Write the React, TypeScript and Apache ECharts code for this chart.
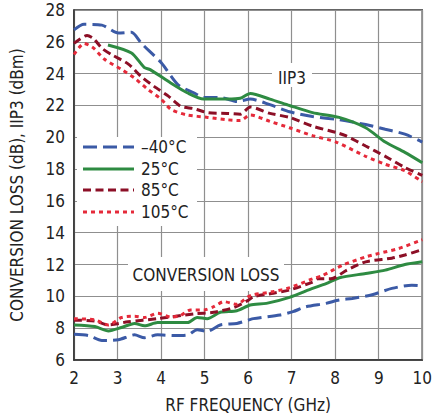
import React, { useEffect, useRef } from "react";
import * as echarts from "echarts";

const xTicks = [2, 3, 4, 5, 6, 7, 8, 9, 10];
const yTicks = [6, 8, 10, 12, 14, 16, 18, 20, 22, 24, 26, 28];

const legendNames = ["\u201340\u00b0C", "25\u00b0C", "85\u00b0C", "105\u00b0C"];
const seriesColors = ["#3b5aa6", "#2e8b42", "#8c0f26", "#e52a3a"];

// IIP3 curves: [frequency GHz, dBm]
const iip3Minus40 = [
  [2.0, 26.75], [2.23, 27.1], [2.64, 27.05], [3.02, 26.55], [3.32, 26.6], [3.55, 25.9],
  [4.0, 24.7], [4.39, 23.3], [4.75, 22.8], [4.98, 22.5], [5.36, 22.5], [5.75, 22.25],
  [6.05, 22.4], [6.5, 22.05], [6.95, 21.6], [7.48, 21.3], [8.09, 21.1], [8.7, 20.8],
  [9.15, 20.5], [9.6, 20.2], [10.0, 19.7],
];
const iip3At25 = [
  [2.78, 25.8], [3.32, 25.3], [3.61, 24.4], [3.75, 24.25], [4.23, 23.4], [4.6, 22.8],
  [4.98, 22.4], [5.52, 22.4], [5.82, 22.45], [6.05, 22.75], [6.5, 22.4], [6.95, 22.0],
  [7.48, 21.55], [8.09, 21.25], [8.7, 20.6], [9.15, 19.7], [9.6, 19.05], [10.0, 18.4],
];
const iip3At85 = [
  [2.0, 25.9], [2.3, 26.4], [2.45, 26.2], [2.64, 25.6], [2.86, 25.2], [3.25, 24.6],
  [3.55, 23.8], [3.84, 23.2], [4.16, 22.6], [4.45, 21.95], [4.75, 21.8], [5.07, 21.55],
  [5.52, 21.5], [5.82, 21.45], [6.05, 21.9], [6.5, 21.5], [6.95, 21.25], [7.48, 20.7],
  [8.02, 20.3], [8.24, 20.1], [8.7, 19.45], [9.15, 18.8], [9.6, 18.1], [10.0, 17.6],
];
const iip3At105 = [
  [2.0, 25.2], [2.23, 25.9], [2.45, 25.6], [2.7, 24.9], [3.1, 24.25], [3.4, 23.7],
  [3.7, 23.0], [4.0, 22.4], [4.23, 21.75], [4.6, 21.4], [5.07, 21.25], [5.52, 21.1],
  [5.82, 21.05], [6.05, 21.4], [6.5, 21.0], [6.95, 20.6], [7.48, 20.1], [8.02, 19.7],
  [8.7, 18.8], [9.15, 18.3], [9.6, 17.9], [10.0, 17.2],
];

// Conversion loss curves: [frequency GHz, dB]
const clMinus40 = [
  [2.0, 7.62], [2.33, 7.54], [2.64, 7.23], [3.02, 7.27], [3.39, 7.58], [3.62, 7.4],
  [3.92, 7.58], [4.3, 7.54], [4.61, 7.58], [4.83, 7.9], [5.06, 7.8], [5.36, 8.2],
  [5.74, 8.3], [6.0, 8.5], [6.12, 8.6], [6.73, 8.83], [7.03, 9.04], [7.33, 9.35],
  [7.79, 9.56], [8.09, 9.77], [8.39, 9.87], [8.85, 10.1], [9.3, 10.5], [9.76, 10.7],
  [10.0, 10.65],
];
const clAt25 = [
  [2.0, 8.2], [2.48, 8.1], [2.79, 7.83], [3.09, 8.04], [3.39, 8.3], [3.62, 8.15],
  [3.92, 8.35], [4.23, 8.35], [4.61, 8.35], [4.83, 8.67], [5.06, 8.6], [5.36, 9.0],
  [5.74, 9.1], [6.05, 9.46], [6.42, 9.56], [6.95, 9.94], [7.48, 10.5], [7.79, 10.8],
  [8.1, 11.17], [8.7, 11.44], [9.15, 11.65], [9.6, 12.0], [10.0, 12.17],
];
const clAt85 = [
  [2.0, 8.5], [2.48, 8.45], [2.79, 8.2], [3.24, 8.4], [3.92, 8.6], [4.76, 8.9],
  [5.21, 9.0], [5.67, 9.3], [6.0, 9.75], [6.12, 9.98], [6.58, 10.2], [6.95, 10.4],
  [7.48, 10.9], [7.6, 11.1], [7.9, 11.1], [8.27, 11.65], [8.7, 12.17], [9.3, 12.4],
  [9.6, 12.6], [10.0, 12.94],
];
const clAt105 = [
  [2.0, 8.6], [2.48, 8.52], [2.79, 8.2], [3.09, 8.67], [3.39, 8.75], [3.62, 8.67],
  [3.92, 8.94], [4.23, 8.7], [4.45, 8.8], [4.68, 9.15], [4.98, 9.15], [5.21, 9.35],
  [5.44, 9.67], [5.74, 9.5], [6.0, 9.98], [6.12, 10.1], [6.58, 10.3], [6.95, 10.54],
  [7.48, 11.1], [7.7, 11.3], [8.17, 11.96], [8.7, 12.48], [9.0, 12.7], [9.45, 13.0],
  [10.0, 13.56],
];

const FONT = "'Liberation Sans Narrow', 'Arial Narrow', 'DejaVu Sans Condensed', Roboto, sans-serif";
const dashes: any[] = [[14, 6], "solid", [8, 4.5], [4, 4]];

export default function App() {
  const ref = useRef<HTMLDivElement>(null);
  useEffect(() => {
    if (!ref.current) return;
    const chart = echarts.init(ref.current, null, { renderer: "svg" });
    const iip3 = [iip3Minus40, iip3At25, iip3At85, iip3At105];
    const cl = [clMinus40, clAt25, clAt85, clAt105];
    const series: any[] = [];
    [iip3, cl].forEach((group, gi) => {
      group.forEach((data, i) => {
        series.push({
          type: "line",
          name: legendNames[i] + (gi ? " CL" : " IIP3"),
          data,
          showSymbol: false,
          smooth: 0.25,
          z: 3,
          lineStyle: { color: seriesColors[i], width: 3, type: dashes[i] },
        });
      });
    });
    const legendY = [147, 169, 190, 212];
    const legendGraphics: any[] = [
      { type: "rect", z: 1, shape: { x: 77, y: 137, width: 120, height: 89 }, style: { fill: "#fff" } },
    ];
    legendNames.forEach((n, i) => {
      legendGraphics.push({
        type: "line",
        z: 5,
        shape: { x1: 83, y1: legendY[i], x2: 134, y2: legendY[i] },
        style: { stroke: seriesColors[i], lineWidth: 3, lineDash: dashes[i] === "solid" ? null : dashes[i] },
      });
      legendGraphics.push({
        type: "text",
        z: 5,
        x: 141,
        y: legendY[i],
        style: { text: n, font: `17px ${FONT}`, fill: "#222", verticalAlign: "middle", align: "left" },
      });
    });
    chart.setOption({
      animation: false,
      backgroundColor: "#fff",
      grid: { left: 72, top: 10, right: 11, bottom: 56, show: true, borderColor: "#333", borderWidth: 1.5, backgroundColor: "transparent" },
      xAxis: {
        type: "value",
        min: 2,
        max: 10,
        interval: 1,
        name: "RF FREQUENCY (GHz)",
        nameLocation: "middle",
        nameGap: 36,
        nameTextStyle: { fontFamily: FONT, fontSize: 17, color: "#222" },
        axisLine: { show: true, lineStyle: { color: "#333", width: 1.5 } },
        axisTick: { show: false },
        axisLabel: { fontFamily: FONT, fontSize: 17, color: "#222", margin: 9, formatter: (v: number) => (xTicks.includes(v) ? String(v) : "") },
        splitLine: { show: true, lineStyle: { color: "#8f8f8f", width: 1.2 } },
      },
      yAxis: {
        type: "value",
        min: 6,
        max: 28,
        interval: 2,
        name: "CONVERSION LOSS (dB), IIP3 (dBm)",
        nameLocation: "middle",
        nameGap: 49,
        nameTextStyle: { fontFamily: FONT, fontSize: 17, color: "#222" },
        axisLine: { show: true, lineStyle: { color: "#333", width: 1.5 } },
        axisTick: { show: false },
        axisLabel: { fontFamily: FONT, fontSize: 17, color: "#222", margin: 9, formatter: (v: number) => (yTicks.includes(v) ? String(v) : "") },
        splitLine: { show: true, lineStyle: { color: "#8f8f8f", width: 1.2 } },
      },
      graphic: [
        ...legendGraphics,
        { type: "rect", z: 1, shape: { x: 272, y: 63, width: 40, height: 24 }, style: { fill: "#fff" } },
        { type: "text", z: 5, x: 292, y: 78, style: { text: "IIP3", font: `17px ${FONT}`, fill: "#222", align: "center", verticalAlign: "middle" } },
        { type: "rect", z: 1, shape: { x: 128, y: 257, width: 156, height: 34 }, style: { fill: "#fff" } },
        { type: "text", z: 5, x: 206, y: 275, style: { text: "CONVERSION LOSS", font: `17px ${FONT}`, fill: "#222", align: "center", verticalAlign: "middle" } },
      ],
      series,
    });
    return () => chart.dispose();
  }, []);
  return <div ref={ref} style={{ position: "fixed", left: 0, top: 0, width: 435, height: 418 }} />;
}
